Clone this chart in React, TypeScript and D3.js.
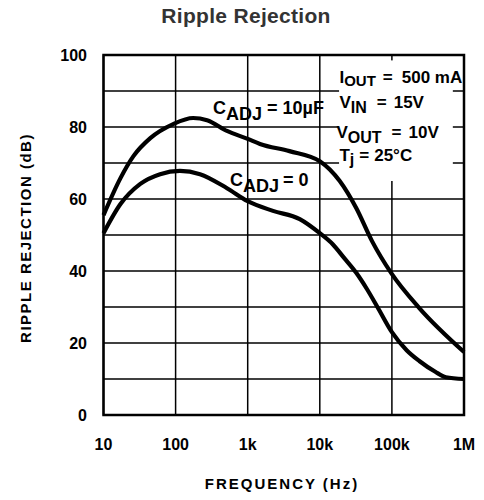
import React from "react";
import * as d3 from "d3";

// frequency axis (log) and dB axis
const freqTicks = [10, 100, 1e3, 1e4, 1e5, 1e6];
const freqLabels = ["10", "100", "1k", "10k", "100k", "1M"];
const dbLabels = [0, 20, 40, 60, 80, 100];
const dbGrid = [0, 10, 20, 30, 40, 50, 60, 70, 80, 90, 100];

// C_ADJ = 10uF
const adj10Freq = [10, 17.2, 26, 44.6, 92.7, 175, 273, 516, 1000, 1480, 3800, 10000, 18900, 32000, 53000, 98000, 240000, 1000000];
const adj10Db = [55.5, 65.8, 71.9, 76.9, 80.8, 82.5, 81.9, 78.9, 76.7, 75.3, 73.3, 70.5, 65, 57.5, 48.3, 39.4, 29.7, 17.5];

// C_ADJ = 0
const adj0Freq = [10, 17.2, 32.4, 61, 115, 218, 516, 1000, 2240, 5270, 10000, 15000, 22000, 32000, 45000, 63000, 100000, 160000, 240000, 400000, 560000, 1000000];
const adj0Db = [50.5, 58.6, 64.2, 66.9, 67.8, 66.9, 63, 59.4, 56.7, 54.4, 50.5, 47.5, 43.5, 39.5, 35, 30, 23, 18, 15, 12, 10.5, 10];

const W = 484;
const H = 500;
const margin = { left: 103.5, right: 20, top: 55, bottom: 85 };

const sans = "'Liberation Sans', Arial, Helvetica, sans-serif";

export default function App() {
  const x = d3
    .scaleLog()
    .domain([10, 1e6])
    .range([margin.left, W - margin.right]);
  const y = d3
    .scaleLinear()
    .domain([0, 100])
    .range([H - margin.bottom, margin.top]);

  const line = d3
    .line<[number, number]>()
    .x((d) => x(d[0]))
    .y((d) => y(d[1]))
    .curve(d3.curveMonotoneX);

  const upper = line(adj10Freq.map((f, i) => [f, adj10Db[i]]) as [number, number][]);
  const lower = line(adj0Freq.map((f, i) => [f, adj0Db[i]]) as [number, number][]);

  const x0 = x(10);
  const x1 = x(1e6);
  const yTop = y(100);
  const yBot = y(0);

  return (
    <svg
      width={W}
      height={H}
      style={{ position: "absolute", left: 0, top: 0, background: "#fff" }}
    >
      <text
        x={246}
        y={23}
        textAnchor="middle"
        fontFamily={sans}
        fontWeight="bold"
        fontSize={21}
        letterSpacing={0.3}
        fill="#333"
      >
        Ripple Rejection
      </text>

      {/* grid */}
      <g stroke="#000" strokeWidth={1.5}>
        {dbGrid.map((d) => (
          <line key={"h" + d} x1={x0} x2={x1} y1={y(d)} y2={y(d)} />
        ))}
        {freqTicks.map((f) => (
          <line key={"v" + f} x1={x(f)} x2={x(f)} y1={yTop} y2={yBot} />
        ))}
      </g>

      {/* white areas behind the labels */}
      <g fill="#fff">
        <rect x={x(18500)} y={y(98.5)} width={x(700000) - x(18500)} height={y(65) - y(98.5)} />
        <rect x={x(290)} y={y(88.8)} width={x(10600) - x(290)} height={y(88.8) - y(81)} />
        <rect x={x(520)} y={y(68.8)} width={x(6600) - x(520)} height={y(68.8) - y(61)} />
      </g>

      {/* frame */}
      <rect
        x={x0}
        y={yTop}
        width={x1 - x0}
        height={yBot - yTop}
        fill="none"
        stroke="#000"
        strokeWidth={2.5}
      />

      <path d={upper || ""} fill="none" stroke="#000" strokeWidth={4.2} strokeLinejoin="round" />
      <path d={lower || ""} fill="none" stroke="#000" strokeWidth={4.2} strokeLinejoin="round" />

      {/* tick labels */}
      <g fontFamily={sans} fontWeight="bold" fontSize={16} fill="#000">
        {dbLabels.map((d) => (
          <text key={"yl" + d} x={87} y={y(d)} dy="0.36em" textAnchor="end">
            {d}
          </text>
        ))}
        {freqTicks.map((f, i) => (
          <text key={"xl" + f} x={x(f)} y={450} textAnchor="middle">
            {freqLabels[i]}
          </text>
        ))}
      </g>

      {/* axis titles */}
      <text
        x={282}
        y={489}
        textAnchor="middle"
        fontFamily={sans}
        fontWeight="bold"
        fontSize={15}
        letterSpacing={2}
      >
        FREQUENCY (Hz)
      </text>
      <text
        transform={`translate(31,${238}) rotate(-90)`}
        textAnchor="middle"
        fontFamily={sans}
        fontWeight="bold"
        fontSize={15}
        letterSpacing={1.5}
      >
        RIPPLE REJECTION (dB)
      </text>

      {/* curve labels */}
      <g fontFamily={sans} fontWeight="bold" fontSize={18} fill="#000">
        <text x={x(330)} y={y(83.6)}>
          C<tspan dy={6}>ADJ</tspan>
          <tspan dy={-6} dx={5}>=</tspan>
          <tspan dx={5}>10µF</tspan>
        </text>
        <text x={x(568)} y={y(63.6)}>
          C<tspan dy={6}>ADJ</tspan>
          <tspan dy={-6} dx={4}>=</tspan>
          <tspan dx={5}>0</tspan>
        </text>
      </g>

      {/* conditions */}
      <g fontFamily={sans} fontWeight="bold" fontSize={17} fill="#000">
        <text x={x(18700)} y={y(92.2)}>
          I<tspan dy={3} fontSize={15}>OUT</tspan>
          <tspan dy={-3} dx={7}>=</tspan>
          <tspan dx={9}>500 mA</tspan>
        </text>
        <text x={x(18700)} y={y(85.2)}>
          V<tspan dy={5} fontSize={16}>IN</tspan>
          <tspan dy={-5} dx={10}>=</tspan>
          <tspan dx={7}>15V</tspan>
        </text>
        <text x={x(17000)} y={y(77)}>
          V<tspan dy={5} fontSize={16}>OUT</tspan>
          <tspan dy={-5} dx={10}>=</tspan>
          <tspan dx={7}>10V</tspan>
        </text>
        <text x={x(18700)} y={y(70.6)}>
          T<tspan dy={4} fontSize={16}>j</tspan>
          <tspan dy={-4} dx={5}>=</tspan>
          <tspan dx={5}>25°C</tspan>
        </text>
      </g>
    </svg>
  );
}
